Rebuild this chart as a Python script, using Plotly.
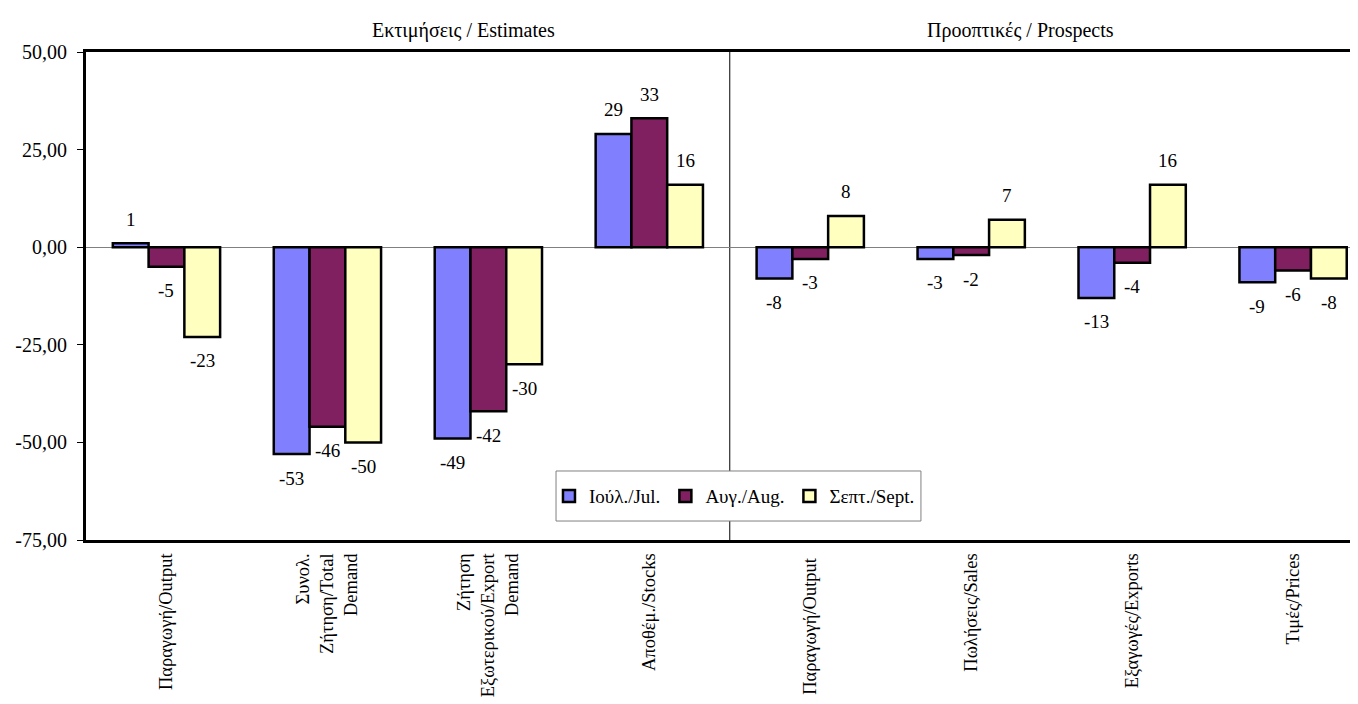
import plotly.graph_objects as go

# categories (x axis), two blocks: estimates / prospects
categories = [
    "Παραγωγή/Output",
    "Συνολ.<br>Ζήτηση/Total<br>Demand",
    "Ζήτηση<br>Εξωτερικού/Export<br>Demand",
    "Αποθέμ./Stocks",
    "Παραγωγή/Output ",
    "Πωλήσεις/Sales",
    "Εξαγωγές/Exports",
    "Τιμές/Prices",
]
series_names = ["Ιούλ./Jul.", "Αυγ./Aug.", "Σεπτ./Sept."]
jul_values = [1, -53, -49, 29, -8, -3, -13, -9]
aug_values = [-5, -46, -42, 33, -3, -2, -4, -6]
sep_values = [-23, -50, -30, 16, 8, 7, 16, -8]
y_tick_values = [50, 25, 0, -25, -50, -75]
y_tick_labels = ["50,00", "25,00", "0,00", "-25,00", "-50,00", "-75,00"]
block_titles = ["Εκτιμήσεις / Estimates", "Προοπτικές / Prospects"]

colors = ["#8080FF", "#802060", "#FFFFC0"]
font_family = "Liberation Serif"

all_series = [jul_values, aug_values, sep_values]

fig = go.Figure()
for name, values, color in zip(series_names, all_series, colors):
    fig.add_trace(go.Bar(
        x=list(range(len(categories))), y=values, name=name,
        marker=dict(color=color, line=dict(color="black", width=2.5))))

# value labels above / below every bar
bar_width = (1 - 1 / 3) / 3
for j, values in enumerate(all_series):
    for i, v in enumerate(values):
        fig.add_annotation(
            x=i + (j - 1) * bar_width, y=v, text=str(v),
            showarrow=False, yanchor="middle",
            yshift=24 if v >= 0 else -24,
            font=dict(size=19, color="black", family=font_family))

# block titles above plot
for title, xpos in zip(block_titles, [1.843, 5.305]):
    fig.add_annotation(
        x=xpos, y=1, xref="x", yref="paper", text=title, showarrow=False,
        yanchor="middle", yshift=22,
        font=dict(size=20, color="black", family=font_family))

# divider between estimates and prospects
fig.add_shape(type="line", x0=3.5, x1=3.5, xref="x", y0=0, y1=1, yref="paper",
              line=dict(color="black", width=1), layer="below")
# legend frame
fig.add_shape(type="rect", xref="paper", yref="paper",
              x0=0.3672, x1=0.6523, y0=0.0389, y1=0.1414,
              line=dict(color="#808080", width=1), fillcolor="white", layer="above")

fig.update_layout(
    width=1358, height=704,
    margin=dict(l=78, r=0, t=44, b=172, autoexpand=False),
    paper_bgcolor="white", plot_bgcolor="white",
    barmode="group", bargap=1 / 3, bargroupgap=0,
    font=dict(family=font_family, size=19, color="black"),
    showlegend=True,
    legend=dict(
        orientation="h", x=0.3617, y=0.090, xanchor="left", yanchor="middle",
        borderwidth=0, bgcolor="rgba(0,0,0,0)",
        font=dict(size=19, family=font_family)),
    xaxis=dict(
        range=[-0.5, 7.453], tickmode="array",
        tickvals=list(range(len(categories))), ticktext=categories,
        tickangle=-90, showline=True, linecolor="black", linewidth=3,
        mirror=True, showgrid=False, ticks="", zeroline=False, automargin=False,
        ticklabelstandoff=3, tickfont=dict(size=18.5, family=font_family)),
    yaxis=dict(
        range=[-75, 50], tickmode="array", tickvals=y_tick_values,
        ticktext=y_tick_labels, showline=True, linecolor="black", linewidth=3,
        ticks="outside", ticklen=6, tickwidth=1, tickcolor="black",
        showgrid=False, zeroline=True, zerolinecolor="#808080", zerolinewidth=1,
        automargin=False, ticklabelstandoff=6,
        tickfont=dict(size=20, family=font_family)),
)

fig.write_html("out.html")
